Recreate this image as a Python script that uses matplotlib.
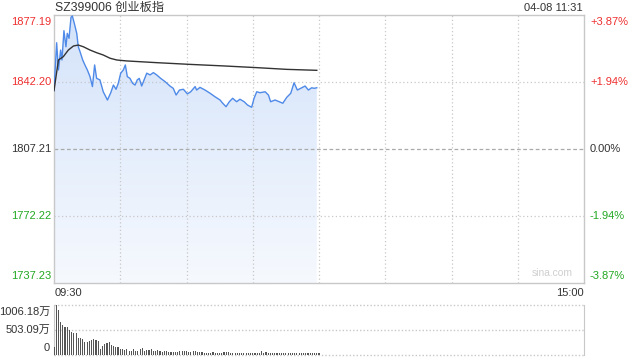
import matplotlib
matplotlib.use('Agg')
import matplotlib.pyplot as plt
import matplotlib.transforms as mtransforms
import numpy as np

plt.rcParams['font.family'] = ['Liberation Sans', 'Noto Sans CJK SC', 'DejaVu Sans']

# ---------------- data ----------------
title_text = "SZ399006 创业板指"
stamp_text = "04-08 11:31"
pre_close = 1807.21
price_ticks = [1877.19, 1842.20, 1807.21, 1772.22, 1737.23]
pct_labels = ['+3.87%', '+1.94%', '0.00%', '-1.94%', '-3.87%']
time_labels = ['09:30', '15:00']
vol_ticks = [1006.18, 503.09, 0]
vol_labels = ['1006.18万', '503.09万', '0']

# minute offsets from 09:30 (trading minutes) and index price
price_min = [0, 1.2, 2, 3, 3.6, 4.5, 5.4, 6, 6.8, 7.7, 8.3, 9.2, 10.3, 11, 11.8, 13, 14,
             15.1, 16.3, 17.4, 18.4, 19.3, 20.8, 22.3, 24.2, 25.7, 26.9, 28.1, 29.1,
             30.2, 31.4, 32.3, 33.2, 34.4, 35.6, 36.7, 37.7, 38.6, 39.7, 40.8, 42,
             43.5, 45, 46.5, 48.3, 50.3, 52.5, 54, 55.3, 56.8, 58.6, 60.4, 61.9, 63.9,
             64.6, 66.1, 68.4, 70.7, 72.9, 75.2, 76.4, 77.9, 79.4, 80.9, 82.7, 84.2,
             86.1, 87.6, 89.5, 90.6, 91.8, 93.3, 95.6, 97.1, 98.1, 100.1, 102, 103.6,
             105.4, 107.2, 108.7, 110.2, 111.7, 113.7, 115.2, 116.7, 117.8, 119]
price_val = [1837.7, 1862.7, 1848.5, 1858.9, 1853.7, 1869.0, 1860.6, 1867.6, 1865.0,
             1876.0, 1876.7, 1872.8, 1867.6, 1860.6, 1858.0, 1853.7, 1851.1, 1848.5,
             1845.0, 1839.8, 1851.1, 1844.1, 1843.3, 1837.1, 1832.8, 1836.6, 1840.6,
             1838.4, 1841.5, 1846.8, 1848.5, 1851.1, 1845.0, 1844.1, 1841.5, 1840.6,
             1843.3, 1844.1, 1840.1, 1843.3, 1846.8, 1845.9, 1847.1, 1845.9, 1844.1,
             1842.4, 1840.1, 1838.9, 1835.4, 1838.0, 1838.4, 1836.0, 1837.1, 1839.8,
             1838.0, 1839.4, 1838.0, 1836.3, 1834.5, 1832.8, 1831.1, 1829.3, 1831.9,
             1833.7, 1831.9, 1833.2, 1831.9, 1830.2, 1829.0, 1833.7, 1837.1, 1836.6,
             1837.1, 1835.4, 1831.9, 1832.8, 1831.9, 1831.1, 1834.2, 1836.3, 1841.8,
             1838.0, 1838.9, 1840.1, 1838.0, 1839.2, 1838.9, 1839.2]

avg_min = [0, 2, 4.2, 6.5, 8.8, 11, 13.3, 16.3, 19.3, 22.3, 25.4, 28.4, 32.9, 46.5,
           61.6, 76.7, 91.8, 105.4, 119]
avg_val = [1837.7, 1853.7, 1855.4, 1858.9, 1861.0, 1861.5, 1860.6, 1858.9, 1857.5,
           1856.3, 1854.6, 1853.7, 1853.2, 1852.3, 1851.4, 1850.6, 1849.7, 1848.8, 1848.3]

# volume per minute (万)
volume = [170, 1006, 903, 663, 609, 554, 554, 499, 472, 445, 438, 349, 349, 322, 267,
          253, 281, 308, 322, 308, 281, 130, 185, 226, 233, 267, 198, 185, 157, 157,
          130, 116, 96, 130, 89, 75, 116, 89,
          80, 120, 134, 80, 100, 100, 120, 80, 80, 100, 80, 67, 80, 80, 67, 67, 67,
          67, 67, 80, 80, 80, 80, 67, 67, 80, 80, 67, 67, 67, 47, 47, 47, 47, 67, 47,
          47, 47, 47, 67, 60,
          67, 47, 47, 47, 47, 47, 47, 33, 33, 33, 33, 33, 33, 33, 47, 80, 33, 67, 33,
          33, 33, 33, 47, 33, 47, 47, 33, 33, 47, 33, 33, 33, 33, 33, 33, 47, 47, 33,
          33, 33, 33, 33]

total_minutes = 240

# ---------------- figure ----------------
W, H = 640, 360
fig = plt.figure(figsize=(6.4, 3.6), dpi=100)
fig.patch.set_facecolor('white')

ax = fig.add_axes([54 / W, 1 - 283 / H, 530 / W, 268 / H])
axv = fig.add_axes([54 / W, 1 - 355 / H, 530 / W, 50 / H])

RED = '#ee2f2f'
GREEN = '#22a822'
DARK = '#333333'
BORDER = '#c8c8c8'
GRID = '#c8c8c8'

ymin, ymax = price_ticks[-1], price_ticks[0]
ax.set_xlim(0, total_minutes)
ax.set_ylim(ymin, ymax)

# gradient fill under the price line
poly_x = [price_min[0]] + list(price_min) + [price_min[-1]]
poly_y = [ymin] + list(price_val) + [ymin]
fill_poly = ax.fill(poly_x, poly_y, facecolor='none', edgecolor='none')[0]
grad = np.linspace(0, 1, 256).reshape(-1, 1)
top_c = np.array([212, 227, 250]) / 255.0
bot_c = np.array([246, 249, 254]) / 255.0
img = top_c[None, None, :] * (1 - grad[:, :, None]) + bot_c[None, None, :] * grad[:, :, None]
im = ax.imshow(img, extent=[0, total_minutes, ymin, ymax], aspect='auto',
               origin='upper', zorder=1)
im.set_clip_path(fill_poly)

# grid
for v in [price_ticks[1], price_ticks[3]]:
    ax.axhline(v, color=GRID, lw=0.9, ls=(0, (1, 2)), zorder=2)
ax.axhline(pre_close, color='#aaaaaa', lw=0.9, ls=(0, (3, 2)), zorder=2)
for m in range(30, total_minutes, 30):
    ax.axvline(m, color=GRID, lw=0.9, ls=(0, (1, 2)), zorder=2)

ax.plot(price_min, price_val, color='#4f8ae8', lw=1.0, zorder=4)
ax.plot(avg_min, avg_val, color='#333333', lw=1.0, zorder=5)

for s in ax.spines.values():
    s.set_color(BORDER)
    s.set_linewidth(1.0)
ax.set_xticks([])
ax.set_yticks([])

# price tick labels
tr_left = mtransforms.blended_transform_factory(fig.transFigure, ax.transData)
for i, (v, lab) in enumerate(zip(price_ticks, pct_labels)):
    if v > pre_close + 0.01:
        c = RED
    elif v < pre_close - 0.01:
        c = GREEN
    else:
        c = DARK
    va = 'top' if i == 0 else ('bottom' if i == len(price_ticks) - 1 else 'center')
    dy = -2 if i == 0 else (2 if i == len(price_ticks) - 1 else 0)
    off = mtransforms.offset_copy(tr_left, fig=fig, x=0, y=dy, units='dots')
    fig.text(51 / W, v, f'{v:.2f}', color=c, fontsize=8, ha='right', va=va,
             transform=off)
    fig.text(590 / W, v, lab, color=c, fontsize=8, ha='left', va=va, transform=off)

# header
fig.text(55 / W, 1 - 8 / H, title_text, fontsize=8.8, color=DARK, ha='left', va='center')
fig.text(583 / W, 1 - 8 / H, stamp_text, fontsize=8, color=DARK, ha='right', va='center')

# time labels
fig.text(55 / W, 1 - 293 / H, time_labels[0], fontsize=8, color=DARK, ha='left', va='center')
fig.text(584 / W, 1 - 293 / H, time_labels[1], fontsize=8, color=DARK, ha='right', va='center')

# watermark
ax.text(0.94, 0.018, 'sina.com', transform=ax.transAxes, fontsize=7.4,
        color='#cfcfcf', ha='center', va='bottom', zorder=3)

# ---------------- volume ----------------
axv.set_xlim(0, total_minutes)
axv.set_ylim(0, vol_ticks[0])
axv.bar(np.arange(len(volume)), volume, width=0.5, color='#555555', linewidth=0, zorder=3)
for v in vol_ticks:
    axv.axhline(v, color=GRID, lw=1.0, ls=(0, (1, 1.5)), zorder=1, clip_on=False)
axv.spines['top'].set_visible(False)
axv.spines['bottom'].set_visible(False)
axv.spines['left'].set_color(BORDER)
axv.spines['right'].set_color(BORDER)
axv.set_xticks([])
axv.set_yticks([])
axv.patch.set_alpha(0)

tr_v = mtransforms.blended_transform_factory(fig.transFigure, axv.transData)
for i, (v, lab) in enumerate(zip(vol_ticks, vol_labels)):
    va = 'top' if i == 0 else ('bottom' if i == len(vol_ticks) - 1 else 'center')
    dy = -2 if i == 0 else (2 if i == len(vol_ticks) - 1 else 0)
    off = mtransforms.offset_copy(tr_v, fig=fig, x=0, y=dy, units='dots')
    fig.text(50 / W, v, lab, color=DARK, fontsize=8, ha='right', va=va, transform=off)

fig.savefig('out.png', dpi=100, facecolor='white')
